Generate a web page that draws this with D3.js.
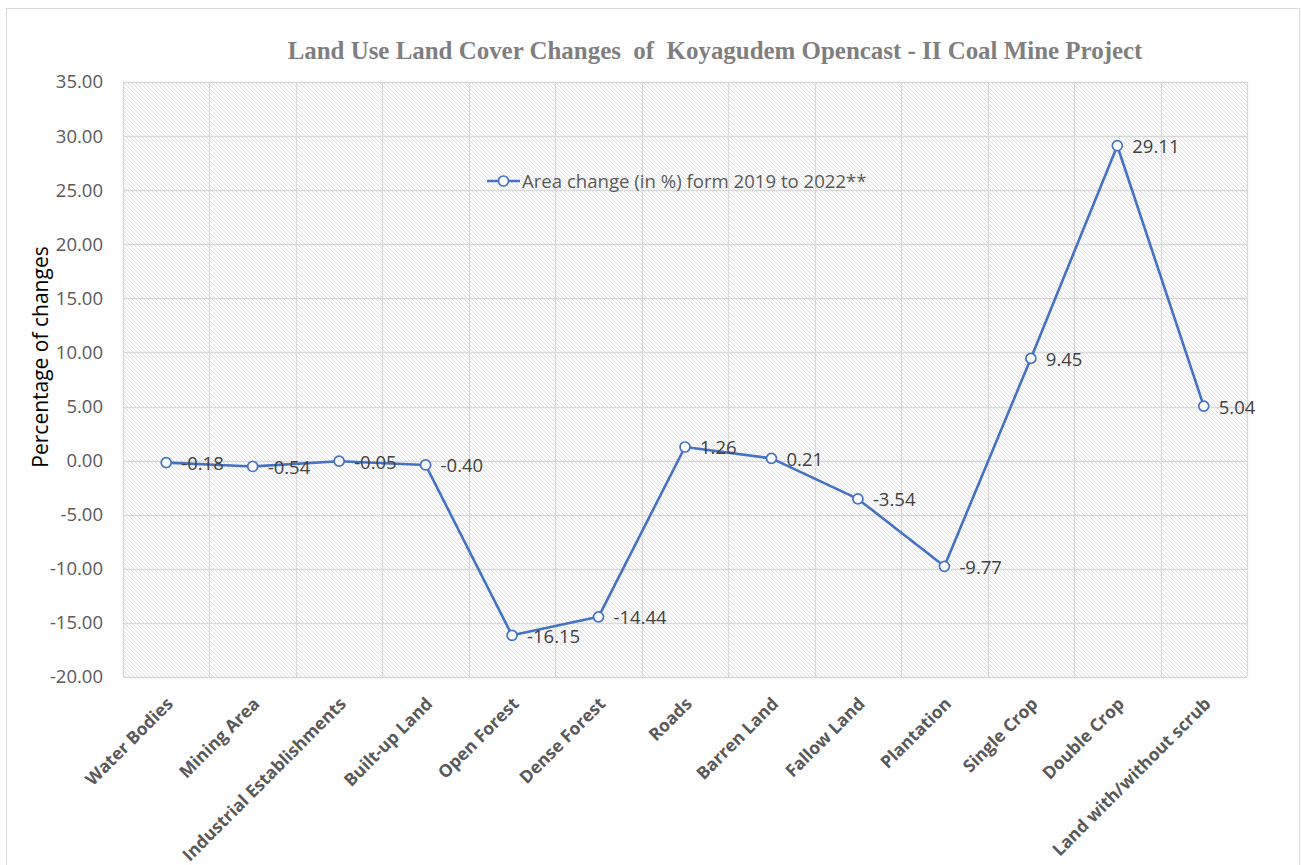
<!DOCTYPE html>
<html>
<head>
<meta charset="utf-8">
<script src="https://cdn.jsdelivr.net/npm/d3@7"></script>
<style>
  body { margin: 0; background: #fff; }
  svg { display: block; }
</style>
</head>
<body>
<svg id="svg" width="1301" height="865"></svg>
<script>
const categories = ["Water Bodies", "Mining Area", "Industrial Establishments", "Built-up Land",
  "Open Forest", "Dense Forest", "Roads", "Barren Land", "Fallow Land", "Plantation",
  "Single Crop", "Double Crop", "Land with/without scrub"];
const values = [-0.18, -0.54, -0.05, -0.40, -16.15, -14.44, 1.26, 0.21, -3.54, -9.77, 9.45, 29.11, 5.04];
const yTicks = [-20, -15, -10, -5, 0, 5, 10, 15, 20, 25, 30, 35];
const seriesName = "Area change (in %) form 2019 to 2022**";
const titleText = "Land Use Land Cover Changes\u00a0 of\u00a0 Koyagudem Opencast - II Coal Mine Project";

const svg = d3.select("#svg");
const margin = {top: 82, right: 54, bottom: 188, left: 123};
const width = 1301 - margin.left - margin.right;
const height = 865 - margin.top - margin.bottom;
const blue = "#4472c4";
const sans = "'Open Sans', 'Liberation Sans', sans-serif";

// excel style numbers, plain hyphen for minus
const fmt = d => d3.format(".2f")(d).replace("\u2212", "-");

// outer chart border
svg.append("rect")
  .attr("x", 6.5).attr("y", 8.5)
  .attr("width", 1293).attr("height", 900)
  .attr("fill", "#fff").attr("stroke", "#d9d9d9");

// hatch fill of plot area
svg.append("defs").append("pattern")
    .attr("id", "hatch")
    .attr("patternUnits", "userSpaceOnUse")
    .attr("width", 4).attr("height", 4)
  .append("path")
    .attr("d", "M-1,-1 l6,6 M3,-1 l2,2 M-1,3 l2,2")
    .attr("stroke", "#e0e0e0").attr("stroke-width", 1);

const g = svg.append("g")
  .attr("transform", "translate(" + margin.left + "," + margin.top + ")");

const x = d3.scaleBand().domain(categories).range([0, width]);
const y = d3.scaleLinear().domain([-20, 35]).range([height, 0]);

g.append("rect")
  .attr("width", width).attr("height", height)
  .attr("fill", "url(#hatch)");

// gridlines
g.append("g")
  .selectAll("line")
  .data(yTicks)
  .join("line")
    .attr("x1", 0).attr("x2", width)
    .attr("y1", d => Math.round(y(d)) + 0.5).attr("y2", d => Math.round(y(d)) + 0.5)
    .attr("stroke", "#d9d9d9").attr("stroke-width", 1.3);

const bounds = categories.map(c => x(c)).concat([width]);
g.append("g")
  .selectAll("line")
  .data(bounds)
  .join("line")
    .attr("x1", d => Math.round(d) + 0.5).attr("x2", d => Math.round(d) + 0.5)
    .attr("y1", 0).attr("y2", height)
    .attr("stroke", "#d9d9d9").attr("stroke-width", 1.3);

// y axis labels
const yAxis = g.append("g")
  .call(d3.axisLeft(y).tickValues(yTicks).tickSize(0).tickPadding(20).tickFormat(fmt));
yAxis.select(".domain").remove();
yAxis.selectAll("text")
  .attr("fill", "#595959")
  .style("font-family", sans)
  .style("font-size", "18.5px");

// x axis labels
g.append("g")
  .selectAll("text")
  .data(categories)
  .join("text")
    .attr("transform", d => "translate(" + (x(d) + x.bandwidth() / 2 + 8) + "," + (height + 28) + ") rotate(-45)")
    .attr("text-anchor", "end")
    .attr("fill", "#595959")
    .style("font-family", sans)
    .style("font-size", "17.4px")
    .style("font-weight", "bold")
    .text(d => d);

// line + markers
const cx = d => x(d) + x.bandwidth() / 2;
const line = d3.line()
  .x((d, i) => cx(categories[i]))
  .y(d => y(d));

g.append("path")
  .datum(values)
  .attr("d", line)
  .attr("fill", "none")
  .attr("stroke", blue)
  .attr("stroke-width", 2.6)
  .attr("stroke-linejoin", "round");

g.append("g")
  .selectAll("circle")
  .data(values)
  .join("circle")
    .attr("cx", (d, i) => cx(categories[i]))
    .attr("cy", d => y(d))
    .attr("r", 5)
    .attr("fill", "#fff")
    .attr("stroke", blue)
    .attr("stroke-width", 1.7);

// data labels
g.append("g")
  .selectAll("text")
  .data(values)
  .join("text")
    .attr("x", (d, i) => cx(categories[i]) + 15)
    .attr("y", d => y(d))
    .attr("dy", "0.4em")
    .attr("fill", "#404040")
    .style("font-family", sans)
    .style("font-size", "18.5px")
    .text(fmt);

// legend
const legend = svg.append("g").attr("transform", "translate(487,181)");
legend.append("line")
  .attr("x1", 0).attr("x2", 33)
  .attr("stroke", blue).attr("stroke-width", 2.6);
legend.append("circle")
  .attr("cx", 16.5).attr("r", 5)
  .attr("fill", "#fff").attr("stroke", blue).attr("stroke-width", 1.7);
legend.append("text")
  .attr("x", 35).attr("dy", "0.35em")
  .attr("fill", "#595959")
  .style("font-family", sans)
  .style("font-size", "18.6px")
  .text(seriesName);

// title
const title = svg.append("text")
  .attr("x", 715).attr("y", 59)
  .attr("text-anchor", "middle")
  .attr("fill", "#7f7f7f")
  .style("font-family", "'Liberation Serif', 'DejaVu Serif', serif")
  .style("font-size", "22px")
  .style("font-weight", "bold")
  .text(titleText);
const tw = title.node().getComputedTextLength();
title.style("font-size", (22 * 855 / tw).toFixed(2) + "px");

// y axis title
svg.append("text")
  .attr("transform", "translate(48,357) rotate(-90)")
  .attr("text-anchor", "middle")
  .attr("fill", "#000")
  .style("font-family", sans)
  .style("font-size", "21px")
  .text("Percentage of changes");
</script>
</body>
</html>
